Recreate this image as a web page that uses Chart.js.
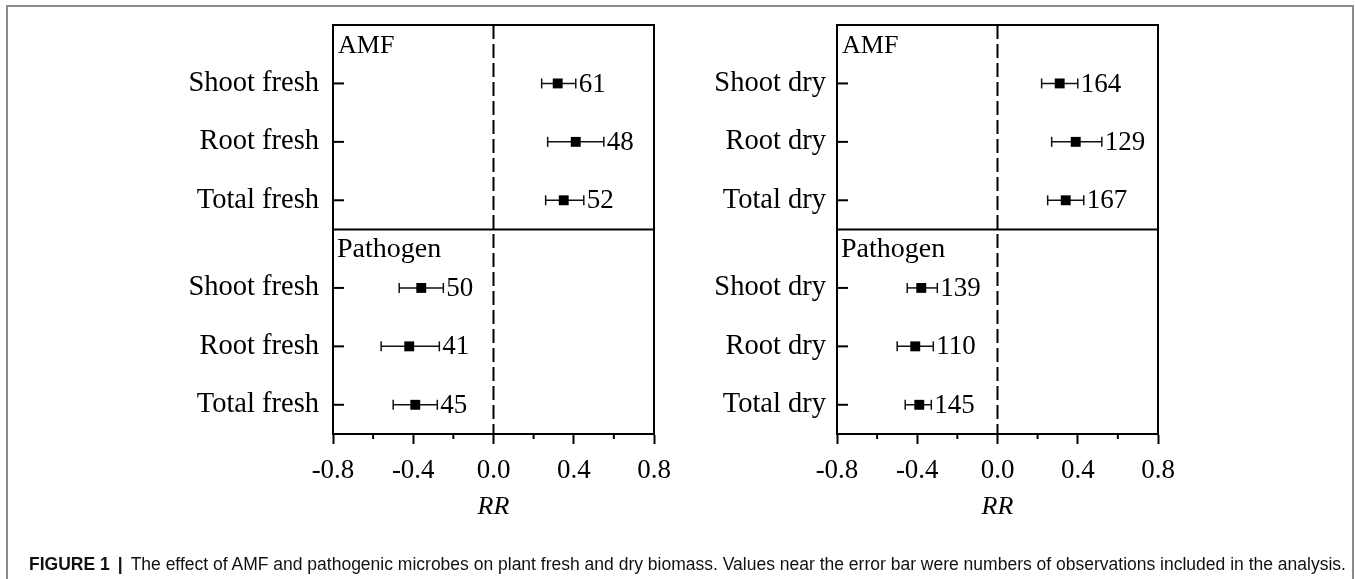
<!DOCTYPE html>
<html>
<head>
<meta charset="utf-8">
<script src="https://cdn.jsdelivr.net/npm/chart.js@4.4.1/dist/chart.umd.min.js"></script>
<style>
html,body{margin:0;padding:0;background:#fff;width:1356px;height:579px;overflow:hidden;}
#frame{position:absolute;left:6px;top:5px;width:1348px;height:620px;border:2px solid #8a8a8a;border-bottom:none;box-sizing:border-box;}
canvas{position:absolute;left:0;top:0;}
#caption{position:absolute;left:29px;top:554px;height:20px;line-height:20px;font-family:"Liberation Sans",Arial,sans-serif;font-size:17px;white-space:nowrap;color:#111;}
#caption .bar{font-weight:bold;margin:0 8px;}
</style>
</head>
<body>
<div id="frame"></div>
<canvas id="left" width="1356" height="579"></canvas>
<canvas id="right" width="1356" height="579"></canvas>
<div id="caption"><b>FIGURE 1</b><span class="bar">|</span>The effect of AMF and pathogenic microbes on plant fresh and dry biomass. Values near the error bar were numbers of observations included in the analysis.</div>
<script>
// ---- data ----
const groups = ['AMF', 'Pathogen'];
const yPositions = [1, 2, 3, 4.5, 5.5, 6.5];
const freshLabels = ['Shoot fresh', 'Root fresh', 'Total fresh', 'Shoot fresh', 'Root fresh', 'Total fresh'];
const freshMean = [0.32, 0.41, 0.35, -0.36, -0.42, -0.39];
const freshLow  = [0.24, 0.27, 0.26, -0.47, -0.56, -0.50];
const freshHigh = [0.41, 0.55, 0.45, -0.25, -0.27, -0.28];
const freshN    = [61, 48, 52, 50, 41, 45];
const dryLabels = ['Shoot dry', 'Root dry', 'Total dry', 'Shoot dry', 'Root dry', 'Total dry'];
const dryMean = [0.31, 0.39, 0.34, -0.38, -0.41, -0.39];
const dryLow  = [0.22, 0.27, 0.25, -0.45, -0.50, -0.46];
const dryHigh = [0.40, 0.52, 0.43, -0.30, -0.32, -0.33];
const dryN    = [164, 129, 167, 139, 110, 145];
const xTickValues = [-0.8, -0.6, -0.4, -0.2, 0, 0.2, 0.4, 0.6, 0.8];
const xTickLabels = ['-0.8', '', '-0.4', '', '0.0', '', '0.4', '', '0.8'];
const dividerY = 3.5;

const SERIF = '"Liberation Serif", "Times New Roman", serif';

function makePanel(id, labels, mean, low, high, n, yAxisWidth, rightPad, labelPad) {
  const datasets = [];
  for (let i = 0; i < mean.length; i++) {
    datasets.push({
      data: [{x: low[i], y: yPositions[i]}, {x: high[i], y: yPositions[i]}],
      showLine: true, borderColor: '#111', borderWidth: 1.5,
      pointStyle: 'line', pointRotation: 90, pointRadius: 5, pointHoverRadius: 5,
      pointBorderColor: '#111', pointBorderWidth: 1.5, order: 2
    });
  }
  datasets.push({
    data: mean.map((m, i) => ({x: m, y: yPositions[i]})),
    showLine: false, pointStyle: 'rect', pointRadius: 7, pointHoverRadius: 7,
    backgroundColor: '#000', borderColor: '#000', pointBorderWidth: 0, order: 1
  });

  const deco = {
    id: 'deco_' + id,
    beforeDatasetsDraw(chart) {
      const {ctx, chartArea: a, scales: {x, y}} = chart;
      ctx.save();
      ctx.strokeStyle = '#000'; ctx.lineWidth = 2; ctx.setLineDash([14, 5]);
      const x0 = x.getPixelForValue(0);
      ctx.beginPath(); ctx.moveTo(x0, a.top); ctx.lineTo(x0, a.bottom); ctx.stroke();
      ctx.setLineDash([]);
      const yd = y.getPixelForValue(dividerY);
      ctx.beginPath(); ctx.moveTo(a.left, yd); ctx.lineTo(a.right, yd); ctx.stroke();
      yPositions.forEach(v => {
        const py = y.getPixelForValue(v);
        ctx.beginPath(); ctx.moveTo(a.left, py); ctx.lineTo(a.left + 11, py); ctx.stroke();
      });
      xTickValues.forEach((v, i) => {
        if (xTickLabels[i] === '') {
          const px = x.getPixelForValue(v);
          ctx.beginPath(); ctx.moveTo(px, a.bottom); ctx.lineTo(px, a.bottom + 5); ctx.stroke();
        }
      });
      ctx.strokeRect(a.left, a.top, a.right - a.left, a.bottom - a.top);
      ctx.fillStyle = '#000'; ctx.textAlign = 'left'; ctx.textBaseline = 'alphabetic';
      ctx.font = '26px ' + SERIF;
      ctx.fillText(groups[0], a.left + 5, a.top + 28);
      ctx.font = '28px ' + SERIF;
      ctx.fillText(groups[1], a.left + 4, yd + 27);
      ctx.restore();
    },
    afterDatasetsDraw(chart) {
      const {ctx, scales: {x, y}} = chart;
      ctx.save();
      ctx.fillStyle = '#000'; ctx.font = '27px ' + SERIF;
      ctx.textAlign = 'left'; ctx.textBaseline = 'middle';
      n.forEach((v, i) => {
        ctx.fillText(String(v), x.getPixelForValue(high[i]) + 3, y.getPixelForValue(yPositions[i]) + 1);
      });
      ctx.restore();
    }
  };

  return new Chart(document.getElementById(id), {
    type: 'scatter',
    data: {datasets},
    options: {
      responsive: false, animation: false, devicePixelRatio: 1,
      layout: {padding: {top: 25, right: rightPad, bottom: 56.7, left: 0}},
      plugins: {legend: {display: false}, tooltip: {enabled: false}},
      events: [],
      scales: {
        x: {
          type: 'linear', min: -0.8, max: 0.8,
          afterBuildTicks: s => { s.ticks = xTickValues.map(v => ({value: v})); },
          afterFit: s => { s.height = 88.3; s.paddingLeft = 0; s.paddingRight = 0; },
          ticks: {autoSkip: false, maxRotation: 0, minRotation: 0, padding: 11, color: '#000',
                  font: {family: SERIF, size: 27}, callback: (v, i) => xTickLabels[i]},
          grid: {drawOnChartArea: false, drawTicks: true, tickLength: 10, tickWidth: 2,
                 tickColor: c => (xTickLabels[c.index] ? '#000' : 'rgba(0,0,0,0)')},
          border: {display: true, color: '#000', width: 2},
          title: {display: true, text: 'RR', color: '#000', padding: 0,
                  font: {family: SERIF, size: 26, style: 'italic'}}
        },
        y: {
          type: 'linear', min: 0, max: 7, reverse: true,
          afterBuildTicks: s => { s.ticks = yPositions.map(v => ({value: v})); },
          afterFit: s => { s.width = yAxisWidth; s.paddingTop = 0; s.paddingBottom = 0; },
          ticks: {autoSkip: false, padding: labelPad, color: '#000',
                  font: {family: SERIF, size: 28.5}, callback: (v, i) => labels[i]},
          grid: {display: false, drawTicks: false},
          border: {display: false}
        }
      }
    },
    plugins: [deco]
  });
}

makePanel('left', freshLabels, freshMean, freshLow, freshHigh, freshN, 333, 1356 - 654, 14);
makePanel('right', dryLabels, dryMean, dryLow, dryHigh, dryN, 837, 1356 - 1158, 11);

const cap = document.getElementById('caption');
const target = 1319;
const w = cap.scrollWidth;
cap.style.fontSize = (17 * target / w) + 'px';
</script>
</body>
</html>
